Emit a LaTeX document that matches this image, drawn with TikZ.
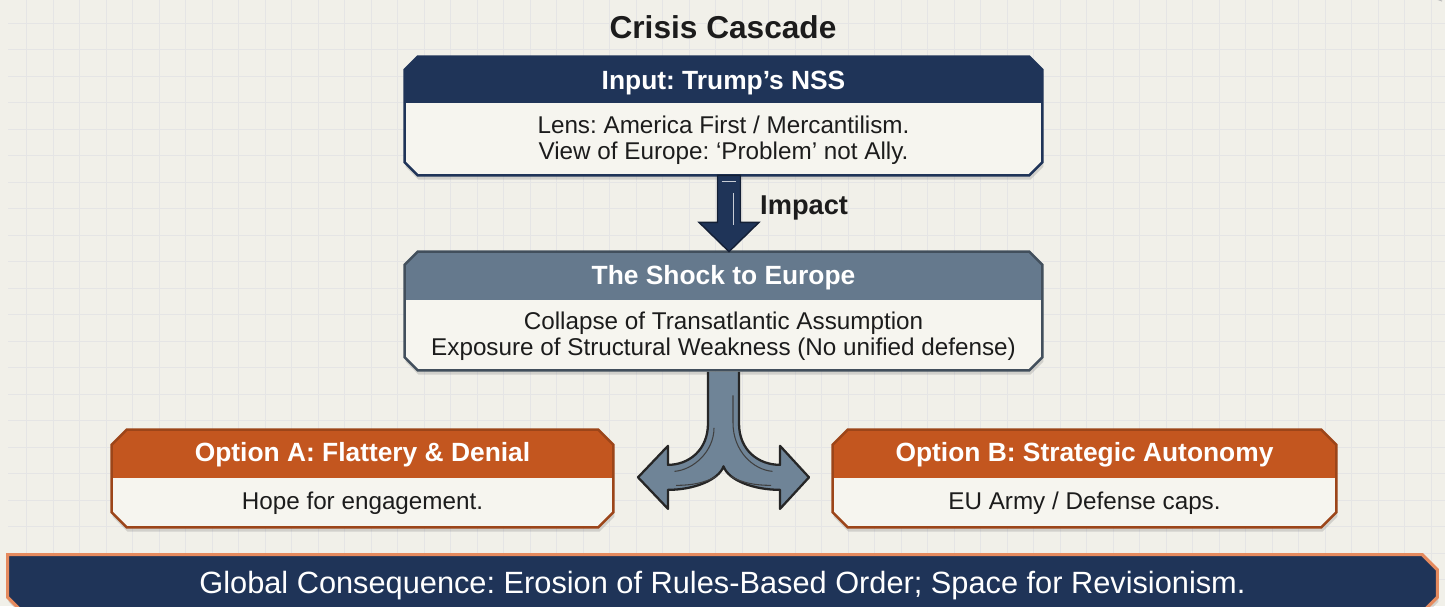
\documentclass[tikz,border=0pt]{standalone}
\usepackage{fontspec}
\setmainfont{Liberation Sans}
\frenchspacing
\usetikzlibrary{positioning, shadows}
\definecolor{paper}{HTML}{F1F0E9}
\definecolor{card}{HTML}{F6F5EF}
\definecolor{navy}{HTML}{1F3458}
\definecolor{slate}{HTML}{65798D}
\definecolor{rust}{HTML}{C3561F}
\definecolor{ember}{HTML}{E58A5E}
\definecolor{forkgray}{HTML}{6F8497}
\definecolor{ink}{HTML}{1C1C1C}
\tikzset{
	gridline/.style={gray!20, line width=0.4pt}, % faint squared paper
	slot/.style={rectangle, inner sep=0pt}, % invisible frame, only gives the anchors
	panel/.style={draw=#1, line width=1.4pt, fill=card,
		drop shadow={opacity=0.28, shadow xshift=0.6pt, shadow yshift=-2.5pt}}, % box with cut corners
	header/.style 2 args={path picture={\fill[#1] (path picture bounding box.north west) rectangle ([yshift=-#2]path picture bounding box.north east);}}, % coloured top band
	headtext/.style={text=white, font=\bfseries\fontsize{15}{18}\selectfont},
	bodytext/.style={text=ink, align=center, font=\fontsize{13.8}{14.8}\selectfont},
}
% outline of a slot with its four corners cut off
\newcommand{\cutpanel}[3][0.26cm]{%
	\path[#3] ([xshift=#1]#2.north west) -- ([xshift=-#1]#2.north east) -- ([yshift=-#1]#2.north east)
		-- ([yshift=#1]#2.south east) -- ([xshift=-#1]#2.south east) -- ([xshift=#1]#2.south west)
		-- ([yshift=#1]#2.south west) -- ([yshift=-#1]#2.north west) -- cycle;}

\begin{document}
\begin{tikzpicture}
	\useasboundingbox (0,0) rectangle (28.9,12.12);
	\clip (0,0) rectangle (28.9,12.12);
	\fill[paper] (0,0) rectangle (28.9,12.12);
	\draw[gridline] (0.16,0.02) grid[step=0.53] (28.9,12.12);
	\draw[gray!55, dashed, line width=0.5pt] (27.7,12.2) arc[start angle=100, end angle=60, radius=2.2];
	
	% title
	\node[font=\bfseries\fontsize{18}{22}\selectfont, text=ink] (title) at (14.46,11.58) {Crisis Cascade};
	
	% input box
	\node[slot, minimum width=12.74cm, minimum height=2.36cm] (input) at (14.47,9.80) {};
	\cutpanel{input}{panel=navy, header={navy}{0.92cm}}
	\node[headtext] (inputhead) at ([yshift=-0.52cm]input.north) {Input: Trump’s NSS};
	\node[bodytext] (inputbody) at ([yshift=-1.68cm]input.north) {Lens: America First / Mercantilism.\\View of Europe: ‘Problem’ not Ally.};
	
	% shock box
	\node[slot, minimum width=12.74cm, minimum height=2.36cm] (shock) at (14.47,5.90) {};
	\cutpanel{shock}{panel=slate!65!black, header={slate}{0.96cm}}
	\node[headtext] (shockhead) at ([yshift=-0.52cm]shock.north) {The Shock to Europe};
	\node[bodytext] (shockbody) at ([yshift=-1.70cm]shock.north) {Collapse of Transatlantic Assumption\\Exposure of Structural Weakness (No unified defense)};
	
	% impact arrow
	\filldraw[fill=navy, draw=navy!60!black, line width=0.8pt] ([xshift=-0.12cm]input.south) -- ([xshift=0.34cm]input.south)
		-- ([xshift=0.34cm,yshift=-0.94cm]input.south) -- ([xshift=0.71cm,yshift=-0.94cm]input.south)
		-- ([xshift=0.11cm]shock.north)
		-- ([xshift=-0.49cm,yshift=-0.94cm]input.south) -- ([xshift=-0.12cm,yshift=-0.94cm]input.south) -- cycle;
	\draw[white!75!navy, line width=0.6pt] ([xshift=0.2cm,yshift=-0.35cm]input.south) -- ([xshift=0.2cm,yshift=-1.0cm]input.south);
	\draw[white!75!navy, line width=0.6pt] ([xshift=-0.04cm,yshift=-0.12cm]input.south) -- ([xshift=0.24cm,yshift=-0.12cm]input.south);
	\node[font=\bfseries\fontsize{15.5}{18}\selectfont, text=ink, anchor=west] (impact) at (15.08,7.96) {Impact};
	
	% options
	\node[slot, minimum width=10.02cm, minimum height=1.94cm] (optA) at (7.25,2.55) {};
	\cutpanel[0.3cm]{optA}{panel=rust!80!black, header={rust}{0.96cm}}
	\node[headtext] (optAhead) at ([yshift=-0.50cm]optA.north) {Option A: Flattery \& Denial};
	\node[bodytext] (optAbody) at ([yshift=-1.48cm]optA.north) {Hope for engagement.};
	\node[slot, minimum width=10.06cm, minimum height=1.94cm] (optB) at (21.69,2.55) {};
	\cutpanel[0.3cm]{optB}{panel=rust!80!black, header={rust}{0.96cm}}
	\node[headtext] (optBhead) at ([yshift=-0.50cm]optB.north) {Option B: Strategic Autonomy};
	\node[bodytext] (optBbody) at ([yshift=-1.48cm]optB.north) {EU Army / Defense caps.};
	
	% fork from the shock to both options
	\begin{scope}[shift={(shock.south)}]
		\filldraw[fill=forkgray, draw=black!85, line width=1.3pt, line join=round] (-0.31,-0.03) -- (-0.31,-1.06)
			.. controls (-0.31,-1.6) and (-0.7,-1.89) .. (-1.11,-1.89) -- (-1.11,-1.51) -- (-1.71,-2.14) -- (-1.11,-2.77) -- (-1.11,-2.39)
			.. controls (-0.6,-2.39) and (-0.1,-2.2) .. (0,-1.92)
			.. controls (0.1,-2.2) and (0.6,-2.39) .. (1.13,-2.39) -- (1.13,-2.77) -- (1.71,-2.14) -- (1.13,-1.51) -- (1.13,-1.89)
			.. controls (0.7,-1.89) and (0.31,-1.6) .. (0.31,-1.06) -- (0.31,-0.03);
		\draw[black!75, line width=0.6pt] (-0.19,-1.15) .. controls (-0.19,-1.62) and (-0.6,-1.99) .. (-0.98,-2.02);
		\draw[black!75, line width=0.6pt] (0.19,-0.5) -- (0.19,-1.05) .. controls (0.19,-1.62) and (0.6,-1.99) .. (0.98,-2.02);
		\draw[black!75, line width=0.6pt] (0.14,-2.12) .. controls (0.4,-2.26) and (0.65,-2.3) .. (0.95,-2.3);
		\draw[black!75, line width=0.6pt] (-0.14,-2.12) .. controls (-0.4,-2.26) and (-0.65,-2.3) .. (-0.95,-2.3);
	\end{scope}
	
	% global consequence bar
	\node[slot, minimum width=28.58cm, minimum height=1.14cm] (global) at (14.45,0.45) {};
	\path[panel=ember, fill=navy, line width=1.8pt] (global.north west) -- ([xshift=-0.3cm]global.north east) -- ([yshift=-0.3cm]global.north east)
		-- ([yshift=0.3cm]global.south east) -- ([xshift=-0.3cm]global.south east) -- ([xshift=0.3cm]global.south west)
		-- ([yshift=0.3cm]global.south west) -- cycle;
	\node[text=white, font=\fontsize{17.5}{20}\selectfont] (globaltext) at (14.45,0.40) {Global Consequence: Erosion of Rules-Based Order; Space for Revisionism.};
\end{tikzpicture}
\end{document}
